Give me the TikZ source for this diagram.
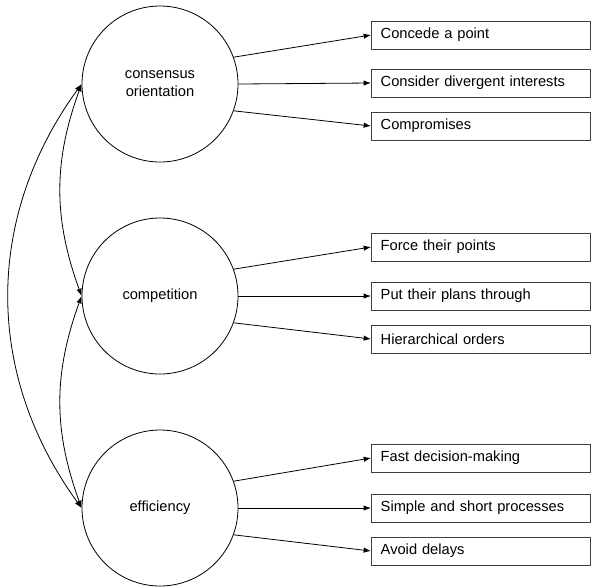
\documentclass[tikz,border=0pt]{standalone}
\usepackage{fontspec}
\setmainfont{Liberation Sans}
\usetikzlibrary{arrows.meta}
\tikzset{
    factor/.style = {draw, circle, minimum size=117pt, inner sep=0pt, align=center},
    item/.style = {draw=black!75, anchor=west, minimum height=21pt, text width=150pt, inner xsep=7pt, align=left},
}

\begin{document}
\begin{tikzpicture}[x=0.75pt, y=-0.75pt, semithick, >={Latex[length=5.5pt, width=4pt]}, font=\fontsize{11pt}{13.5pt}\selectfont]
            \useasboundingbox (0, 0) rectangle (592, 587);
            \node [factor] (consensus) at (160, 84) {consensus\\orientation};
            \node [factor] (competition) at (160, 296) {competition};
            \node [factor] (efficiency) at (160, 508) {efficiency};
            \node [item] (concede) at (371, 35) {Concede a point};
            \node [item] (divergent) at (371, 83) {Consider divergent interests};
            \node [item] (compromise) at (371, 126) {Compromises};
            \node [item] (force) at (371, 247) {Force their points};
            \node [item] (plans) at (371, 296) {Put their plans through};
            \node [item] (orders) at (371, 339) {Hierarchical orders};
            \node [item] (fast) at (371, 458) {Fast decision-making};
            \node [item] (simple) at (371, 508) {Simple and short processes};
            \node [item] (delays) at (371, 551) {Avoid delays};
            \draw [->] (consensus.20) -- (concede.west);
            \draw [->] (consensus.0) -- (divergent.west);
            \draw [->] (consensus.-20) -- (compromise.west);
            \draw [->] (competition.20) -- (force.west);
            \draw [->] (competition.0) -- (plans.west);
            \draw [->] (competition.-20) -- (orders.west);
            \draw [->] (efficiency.20) -- (fast.west);
            \draw [->] (efficiency.0) -- (simple.west);
            \draw [->] (efficiency.-20) -- (delays.west);
            \draw [<->] (consensus.west) to [bend right=20] (competition.west);
            \draw [<->] (competition.west) to [bend right=20] (efficiency.west);
            \draw [<->] (consensus.west) to [bend right=36] (efficiency.west);
        \end{tikzpicture}
\end{document}
